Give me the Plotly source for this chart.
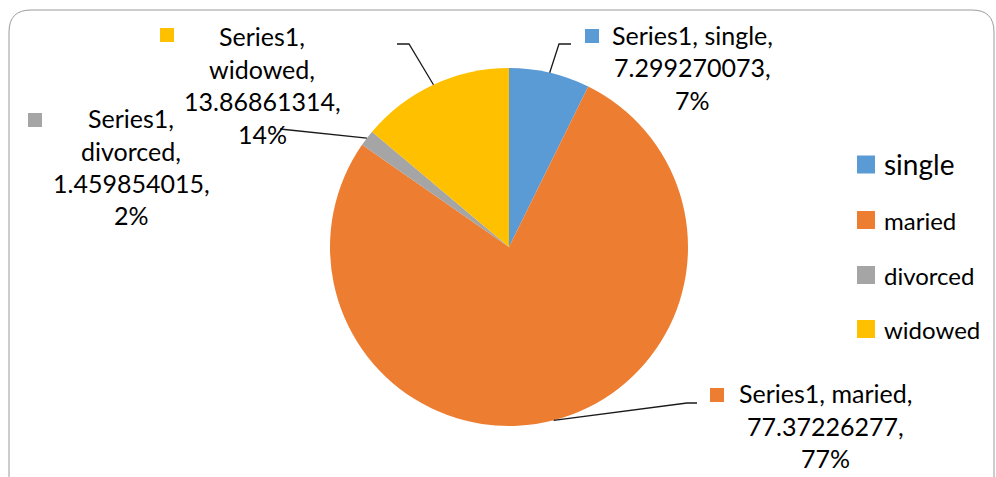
import math
import plotly.graph_objects as go

# Marital status breakdown
categories = ["single", "maried", "divorced", "widowed"]
values = [7.299270073, 77.37226277, 1.459854015, 13.86861314]
colors = ["#5B9BD5", "#ED7D31", "#A5A5A5", "#FFC000"]
series_name = "Series1"

W, H = 996, 477
CX, CY, R = 509, 247, 179          # pie centre and radius in pixels
FONT = "Lato"
TXT = "#000000"


def px(x):
    return x / W


def py(y):
    return 1 - y / H


def whole_percents(vals):
    """Round shares to integers that still add up to 100 (largest remainder)."""
    tot = sum(vals)
    raw = [v / tot * 100 for v in vals]
    base = [math.floor(r) for r in raw]
    short = 100 - sum(base)
    order = sorted(range(len(vals)), key=lambda i: raw[i] - base[i], reverse=True)
    for i in order[:short]:
        base[i] += 1
    return base


fig = go.Figure()
fig.add_trace(go.Pie(
    labels=categories,
    values=values,
    sort=False,
    direction="clockwise",
    rotation=0,
    marker=dict(colors=colors, line=dict(width=0)),
    textinfo="none",
    hoverinfo="label+value+percent",
    showlegend=False,
    domain=dict(x=[px(CX - R), px(CX + R)], y=[py(CY + R), py(CY - R)]),
))

shapes = []
annotations = []

# chart-area frame with rounded top corners
rad = 22
left, top, right, bottom = 9, 10, 994, 520
path = (f"M {px(left)},{py(bottom)} L {px(left)},{py(top + rad)} "
        f"Q {px(left)},{py(top)} {px(left + rad)},{py(top)} "
        f"L {px(right - rad)},{py(top)} "
        f"Q {px(right)},{py(top)} {px(right)},{py(top + rad)} "
        f"L {px(right)},{py(bottom)}")
shapes.append(dict(type="path", path=path, xref="paper", yref="paper",
                   line=dict(color="#9a9a9a", width=1)))

# data-label layout: text centre x, first-line y, key square (x, y), leader elbow points
label_layout = {
    "single":   dict(cx=692, y0=35, key=(585, 29), lines=3, leader=[(559, 44), (571, 44)]),
    "maried":   dict(cx=825, y0=393, key=(710, 388), lines=3, leader=[(687, 403), (697, 403)]),
    "divorced": dict(cx=131, y0=118, key=(28, 113), lines=4, leader=[(280, 129)]),
    "widowed":  dict(cx=262, y0=36, key=(160, 28), lines=4, leader=[(409, 44), (397, 44)]),
}
LINE_H = 32.5
LABEL_SIZE = 25

total = sum(values)
percents = whole_percents(values)
cum = 0.0
for cat, val, col, pct in zip(categories, values, colors, percents):
    mid = (cum + val / 2) / total * 2 * math.pi
    cum += val
    sx = CX + R * math.sin(mid)
    sy = CY - R * math.cos(mid)
    lay = label_layout[cat]

    if lay["lines"] == 3:
        lines = [f"{series_name}, {cat},", f"{val:.10g},", f"{pct}%"]
    else:
        lines = [f"{series_name},", f"{cat},", f"{val:.10g},", f"{pct}%"]
    for i, t in enumerate(lines):
        annotations.append(dict(
            x=px(lay["cx"]), y=py(lay["y0"] + i * LINE_H), xref="paper", yref="paper",
            text=t, showarrow=False, xanchor="center", yanchor="middle",
            font=dict(family=FONT, size=LABEL_SIZE, color=TXT)))

    kx, ky = lay["key"]
    shapes.append(dict(type="rect", xref="paper", yref="paper",
                       x0=px(kx), x1=px(kx + 14), y0=py(ky), y1=py(ky + 14),
                       fillcolor=col, line=dict(width=0)))

    pts = [(sx, sy)] + lay["leader"]
    d = f"M {px(pts[0][0])},{py(pts[0][1])} " + " ".join(
        f"L {px(x)},{py(y)}" for x, y in pts[1:])
    shapes.append(dict(type="path", path=d, xref="paper", yref="paper",
                       line=dict(color="#1a1a1a", width=1.3)))

# legend on the right
legend_y = [164.5, 220, 275, 329]
legend_sizes = [28, 24, 24, 24]
for cat, col, ly, fs in zip(categories, colors, legend_y, legend_sizes):
    shapes.append(dict(type="rect", xref="paper", yref="paper",
                       x0=px(857), x1=px(875), y0=py(ly - 9), y1=py(ly + 9),
                       fillcolor=col, line=dict(width=0)))
    annotations.append(dict(
        x=px(882), y=py(ly), xref="paper", yref="paper", text=cat,
        showarrow=False, xanchor="left", yanchor="middle",
        font=dict(family=FONT, size=fs, color=TXT)))

fig.update_layout(
    width=W, height=H,
    margin=dict(l=0, r=0, t=0, b=0),
    paper_bgcolor="white",
    plot_bgcolor="white",
    shapes=shapes,
    annotations=annotations,
)

fig.write_html("out.html")
